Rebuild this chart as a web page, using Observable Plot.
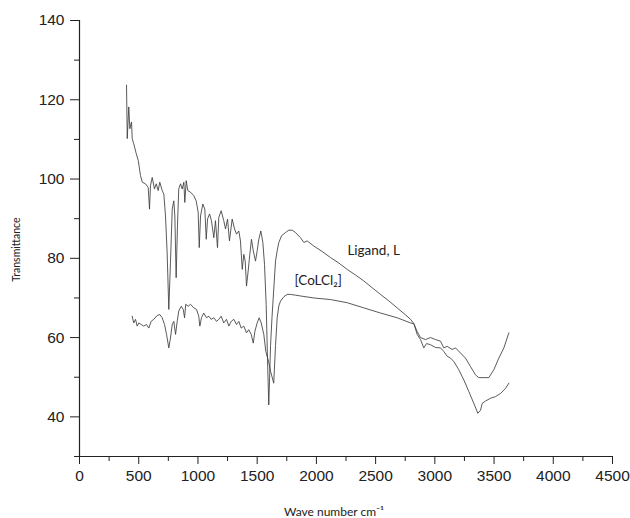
<!DOCTYPE html>
<html>
<head>
<meta charset="utf-8">
<script src="https://cdn.jsdelivr.net/npm/d3@7"></script>
<script src="https://cdn.jsdelivr.net/npm/@observablehq/plot@0.6"></script>
<style>
  html, body { margin: 0; padding: 0; background: #fff; }
  #chart { width: 630px; height: 518px; }
</style>
</head>
<body>
<div id="chart"></div>
<script>
// Ligand, L  (wave number cm-1, transmittance)
const wnLigand = [397,403,416,425,439,445,458,479,496,515,530,557,580,591,599,614,633,648,664,678,698,712,726,740,754,768,783,796,805,816,827,838,853,867,881,889,901,914,937,965,985,1002,1011,1022,1041,1058,1070,1081,1098,1114,1134,1148,1165,1176,1196,1218,1233,1250,1266,1289,1309,1326,1345,1359,1374,1387,1399,1410,1424,1438,1452,1467,1486,1500,1514,1531,1548,1562,1576,1587,1598,1613,1625,1655,1669,1683,1706,1739,1767,1796,1824,1866,1894,1922,1978,2050,2119,2190,2260,2330,2400,2470,2541,2610,2682,2750,2795,2823,2851,2879,2907,2930,2963,3006,3048,3076,3104,3132,3160,3202,3245,3287,3329,3363,3386,3400,3428,3470,3512,3555,3597,3625];
const tLigand = [123.7,110.2,118.2,112.7,114.4,110.2,108.9,106.4,104.7,100.9,99.2,98.8,97.9,92.4,98.3,100.4,97.5,98.8,97.1,99.2,97.1,96.2,90.7,81.4,67.1,78.9,92.4,94.5,90.7,75.1,88.2,97.5,98.8,97.5,99.2,94.1,99.6,97.1,96.7,95.8,94.5,91.6,82.7,90.7,93.7,92.4,84.8,89.9,91.2,89.5,85.2,89.5,82.7,90.3,92.0,89.5,87.4,89.9,84.4,89.9,87.4,86.1,86.9,84.4,77.2,81.0,79.3,73.0,76.8,81.0,84.8,81.9,79.3,81.9,84.8,86.9,84.0,78.5,68.4,54.8,43.0,58.0,65.0,79.3,81.9,84.0,85.7,86.5,87.1,87.1,86.5,85.2,84.0,84.4,83.1,81.7,80.2,78.8,77.2,75.8,74.3,72.6,70.9,69.3,67.5,65.8,64.6,63.5,60.8,59.5,57.4,58.5,58.2,57.5,57.4,56.5,55.3,54.8,54.0,51.9,49.3,46.4,43.4,40.9,41.7,43.4,44.0,44.7,45.1,45.9,47.2,48.5];

// [CoLCl2] complex
const wnComplex = [445,458,473,487,501,521,543,566,585,605,627,656,678,698,718,735,754,768,783,796,811,825,838,859,876,887,897,918,937,965,988,1007,1016,1030,1049,1072,1092,1112,1134,1157,1176,1196,1218,1241,1261,1281,1303,1326,1345,1365,1387,1410,1429,1450,1467,1481,1500,1517,1534,1556,1573,1596,1613,1640,1655,1669,1683,1697,1725,1753,1781,1824,1866,1978,2119,2260,2400,2541,2682,2795,2823,2851,2879,2921,2963,3006,3048,3076,3104,3146,3175,3217,3259,3301,3343,3371,3414,3456,3498,3540,3583,3625];
const tComplex = [65.4,63.7,64.6,62.9,63.7,63.3,62.9,63.3,62.4,64.1,64.6,65.6,65.8,65.0,63.3,60.8,57.4,59.9,63.3,64.1,60.8,64.1,66.7,67.9,67.1,65.0,68.4,67.9,68.4,67.5,67.1,65.4,62.9,65.0,66.2,65.0,65.4,64.6,65.0,64.1,64.6,65.4,63.7,64.6,62.9,64.1,64.6,63.3,64.1,62.4,62.9,61.2,62.0,60.8,58.6,61.6,63.7,65.0,63.7,60.8,56.5,54.0,51.5,48.5,58.0,65.0,68.0,69.2,70.3,70.9,70.9,70.7,70.5,70.0,69.6,68.8,67.5,66.2,65.0,63.7,63.5,61.5,60.0,59.5,60.0,59.5,59.1,57.4,57.8,57.0,57.4,56.1,54.8,52.7,50.6,49.9,49.9,49.9,51.9,54.8,57.4,61.2];

// ticks
const xMajor = [0,500,1000,1500,2000,2500,3000,3500,4000,4500];
const xMinor = [250,750,1250,1750,2250,2750,3250,3750,4250];
const yMajor = [40,60,80,100,120,140];
const yMinor = [30,50,70,90,110,130];

// curve annotations
const seriesNames = ["Ligand, L", "[CoLCl\u2082]"];
const labelWn = [2262, 1815];
const labelT = [81.9, 74.3];

// axis titles
const yTitle = "Transmittance";
const xTitle = "Wave number cm\u207B\u00B9";
const yTitleAt = 82.2;

const ligand = wnLigand.map((w, i) => ({wn: w, t: tLigand[i]}));
const complex = wnComplex.map((w, i) => ({wn: w, t: tComplex[i]}));
const labels = seriesNames.map((s, i) => ({name: s, wn: labelWn[i], t: labelT[i]}));

const chart = Plot.plot({
  width: 630,
  height: 518,
  marginLeft: 79,
  marginRight: 18,
  marginTop: 20,
  marginBottom: 62,
  x: {domain: [0, 4500]},
  y: {domain: [30, 140]},
  style: {fontFamily: "'Liberation Sans', Arial, sans-serif", fontSize: "15.5px", color: "#222", background: "#fff"},
  marks: [
    Plot.axisX({ticks: xMajor, tickSize: 8, tickPadding: 5, label: null, tickFormat: d => String(d)}),
    Plot.axisX({ticks: xMinor, tickSize: 5, label: null, tickFormat: () => ""}),
    Plot.axisY({ticks: yMajor, tickSize: 9, tickPadding: 6, label: null, tickFormat: d => String(d)}),
    Plot.axisY({ticks: yMinor, tickSize: 5, label: null, tickFormat: () => ""}),
    Plot.ruleX([0], {stroke: "#222", strokeWidth: 1.2}),
    Plot.ruleY([30], {stroke: "#222", strokeWidth: 1.2}),
    Plot.line(complex, {x: "wn", y: "t", stroke: "#3c3c3c", strokeWidth: 0.85}),
    Plot.line(ligand, {x: "wn", y: "t", stroke: "#3c3c3c", strokeWidth: 0.85}),
    Plot.text(labels, {x: "wn", y: "t", text: "name", textAnchor: "start", fontFamily: "Lato, 'Open Sans', sans-serif", fontSize: 13.5, fill: "#222"}),
    Plot.text([yTitle], {y: [yTitleAt], frameAnchor: "left", textAnchor: "middle", lineAnchor: "middle", dx: -63, rotate: -90, fontFamily: "Lato, 'Open Sans', sans-serif", fontSize: 10.5, fill: "#222"}),
    Plot.text([xTitle], {frameAnchor: "bottom", dx: -12, dy: 59, fontFamily: "Lato, 'Open Sans', sans-serif", fontSize: 12, fill: "#222"})
  ]
});
document.getElementById("chart").appendChild(chart);
</script>
</body>
</html>
